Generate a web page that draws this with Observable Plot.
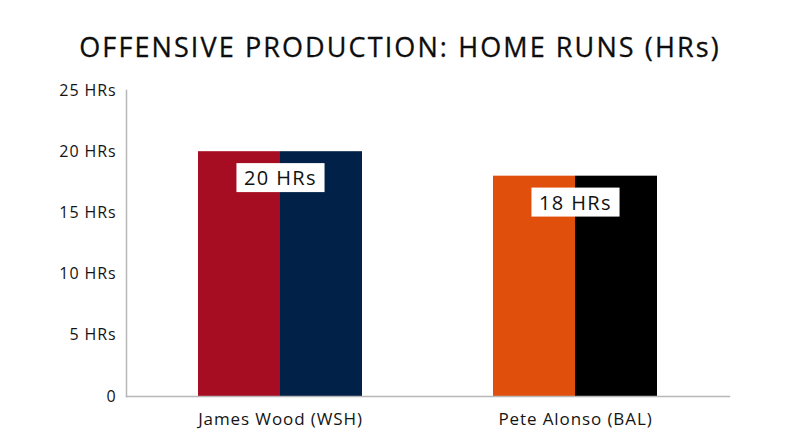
<!DOCTYPE html>
<html>
<head>
<meta charset="utf-8">
<script src="https://cdn.jsdelivr.net/npm/d3@7"></script>
<script src="https://cdn.jsdelivr.net/npm/@observablehq/plot@0.6"></script>
<style>
  body { margin: 0; background: #fff; font-family: "Open Sans", sans-serif; }
  #title { height: 70px; box-sizing: border-box; padding-top: 30px; line-height: 34px; font-size: 27px; letter-spacing: 2.1px; text-align: center; color: #0d0d0d; -webkit-text-stroke: 0.3px #0d0d0d; }
</style>
</head>
<body>
<div id="title">OFFENSIVE PRODUCTION: HOME RUNS (HRs)</div>
<div id="chart"></div>
<script>
const players = ["James Wood (WSH)", "Pete Alonso (BAL)"];
const homeRuns = [20, 18];
const primaryColors = ["#A60D22", "#E04F0C"];
const secondaryColors = ["#012148", "#000000"];
const yTicks = [0, 5, 10, 15, 20, 25];
const yTickLabels = ["0", "5 HRs", "10 HRs", "15 HRs", "20 HRs", "25 HRs"];

const leftRows = players.map((p, i) => ({player: p, hrs: homeRuns[i], color: primaryColors[i]}));
const rightRows = players.map((p, i) => ({player: p, hrs: homeRuns[i], color: secondaryColors[i]}));
const labelRows = players.map((p, i) => ({player: p, hrs: homeRuns[i], label: `${homeRuns[i]} HRs`}));

const layout = {
  width: 800,
  height: 377,
  marginTop: 20,
  marginLeft: 126,
  marginRight: 71,
  marginBottom: 51,
  style: {fontFamily: "'Open Sans', sans-serif", fontSize: "16px", color: "#141414", background: "#fff"},
  x: {domain: players, paddingInner: 0.444, paddingOuter: 0.244, label: null, axis: null},
  y: {domain: [0, 25], label: null, axis: null},
  color: {type: "identity"}
};

// probe the x band scale to split each bar in two halves
const probe = Plot.plot({...layout, marks: [Plot.barY(leftRows, {x: "player", y: "hrs"})]});
const half = probe.scale("x").bandwidth / 2;

const chart = Plot.plot({
  ...layout,
  marks: [
    Plot.barY(leftRows, {x: "player", y: "hrs", fill: d => d.color, insetRight: half}),
    Plot.barY(rightRows, {x: "player", y: "hrs", fill: d => d.color, insetLeft: half}),
    Plot.frame({anchor: "left", stroke: "#b8b8b8", strokeWidth: 1.5}),
    Plot.frame({anchor: "bottom", stroke: "#b8b8b8", strokeWidth: 1.5}),
    Plot.axisY({ticks: yTicks, tickFormat: d => yTickLabels[yTicks.indexOf(d)], tickSize: 0, tickPadding: 10, fontSize: 16, label: null}),
    Plot.axisX({tickSize: 0, tickPadding: 16, fontSize: 17, label: null}),
    Plot.text(labelRows, {x: "player", y: "hrs", text: "label", dy: 27, fontSize: 20, fill: "#111"})
  ]
});
document.getElementById("chart").appendChild(chart);

// letter spacing to approximate the wide geometric face
chart.querySelectorAll("text").forEach(t => { t.style.letterSpacing = "0.9px"; });

// white boxes behind bar labels
chart.querySelectorAll("text").forEach(t => {
  if (!/^\d+ HRs$/.test(t.textContent)) return;
  if (t.closest('g[aria-label*="axis"]')) return;
  t.style.letterSpacing = "1.4px";
  const b = t.getBBox();
  const cy = b.y + b.height / 2;
  const r = document.createElementNS("http://www.w3.org/2000/svg", "rect");
  r.setAttribute("x", b.x - 7.5);
  r.setAttribute("y", cy - 14.5);
  r.setAttribute("width", b.width + 15);
  r.setAttribute("height", 29);
  r.setAttribute("fill", "#fff");
  if (t.getAttribute("transform")) r.setAttribute("transform", t.getAttribute("transform"));
  t.parentNode.insertBefore(r, t);
});
</script>
</body>
</html>
